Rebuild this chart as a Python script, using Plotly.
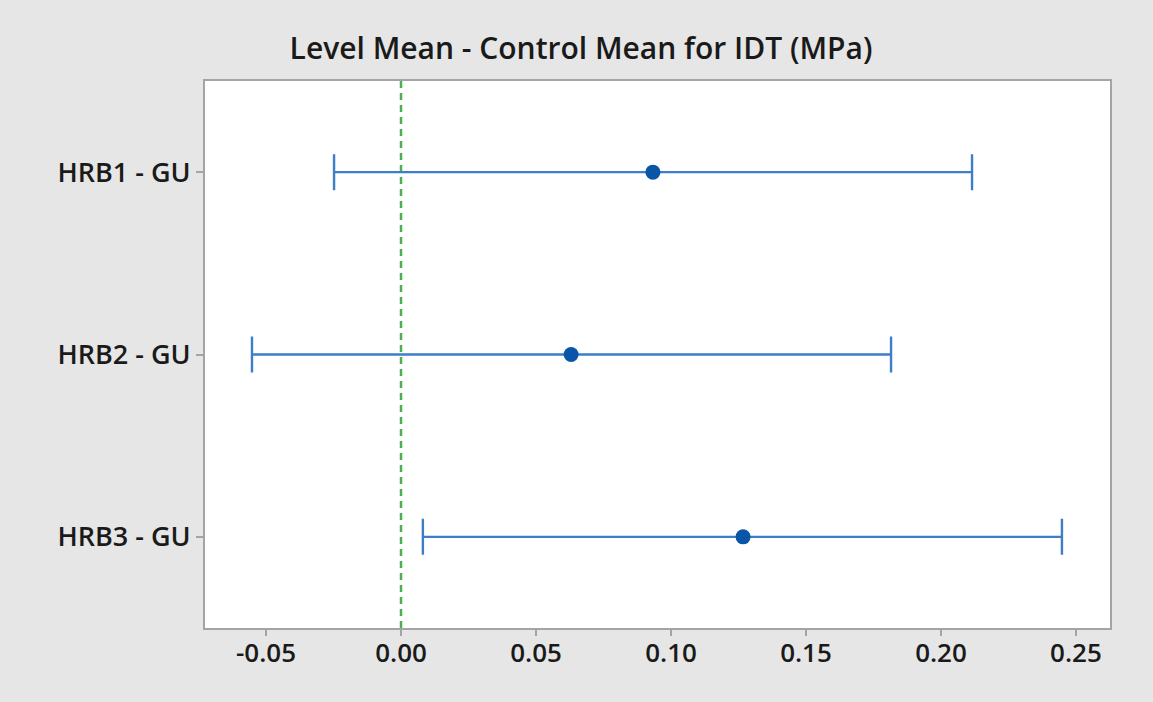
import plotly.graph_objects as go

# Differences of level means from the control mean, with interval bounds
comparisons = ["HRB1 - GU", "HRB2 - GU", "HRB3 - GU"]
mean_diff = [0.0933, 0.0630, 0.1267]
lower_bound = [-0.0248, -0.0552, 0.0081]
upper_bound = [0.2115, 0.1815, 0.2448]
x_ticks = [-0.05, 0.00, 0.05, 0.10, 0.15, 0.20, 0.25]
control_ref = 0.0

err_plus = [u - m for u, m in zip(upper_bound, mean_diff)]
err_minus = [m - l for m, l in zip(mean_diff, lower_bound)]

font_family = "Open Sans, Noto Sans, sans-serif"
text_color = "#1a1a1a"
frame_color = "#a4a4a4"

fig = go.Figure()

fig.add_trace(go.Scatter(
    x=mean_diff,
    y=comparisons,
    mode="markers",
    marker=dict(color="#0a55a8", size=15),
    error_x=dict(
        type="data",
        symmetric=False,
        array=err_plus,
        arrayminus=err_minus,
        color="#3d7ec6",
        thickness=2.4,
        width=18,
    ),
    showlegend=False,
    hoverinfo="x+y",
))

# Reference line at zero difference
fig.add_vline(x=control_ref, line=dict(color="#4caf50", width=2.5, dash="7px,5px"), layer="below")

fig.update_layout(
    width=1153,
    height=702,
    margin=dict(l=205, r=43, t=81, b=74),
    paper_bgcolor="#e6e6e6",
    plot_bgcolor="#ffffff",
    title=dict(
        text="Level Mean - Control Mean for IDT (MPa)",
        x=(581 / 1153),
        xref="container",
        xanchor="center",
        y=1 - 48 / 702,
        yref="container",
        yanchor="middle",
        font=dict(family=font_family, size=30, color=text_color, weight=600),
    ),
    font=dict(family=font_family, color=text_color),
)

fig.update_xaxes(
    range=[-0.0726, 0.2626],
    tickvals=x_ticks,
    ticktext=[f"{v:.2f}" for v in x_ticks],
    ticks="outside",
    ticklen=6,
    tickwidth=1.5,
    tickcolor=frame_color,
    tickfont=dict(family=font_family, size=26, color=text_color, weight=600),
    ticklabelstandoff=-5,
    showgrid=False,
    zeroline=False,
    showline=True,
    linecolor=frame_color,
    linewidth=2,
    mirror=True,
)

fig.update_yaxes(
    type="category",
    categoryorder="array",
    categoryarray=comparisons,
    range=[2.5, -0.5],
    ticks="outside",
    ticklen=7,
    tickwidth=1.5,
    tickcolor=frame_color,
    tickfont=dict(family=font_family, size=27, color=text_color, weight=600),
    ticklabelstandoff=0,
    showgrid=False,
    zeroline=False,
    showline=True,
    linecolor=frame_color,
    linewidth=2,
    mirror=True,
)

fig.write_html("out.html")
